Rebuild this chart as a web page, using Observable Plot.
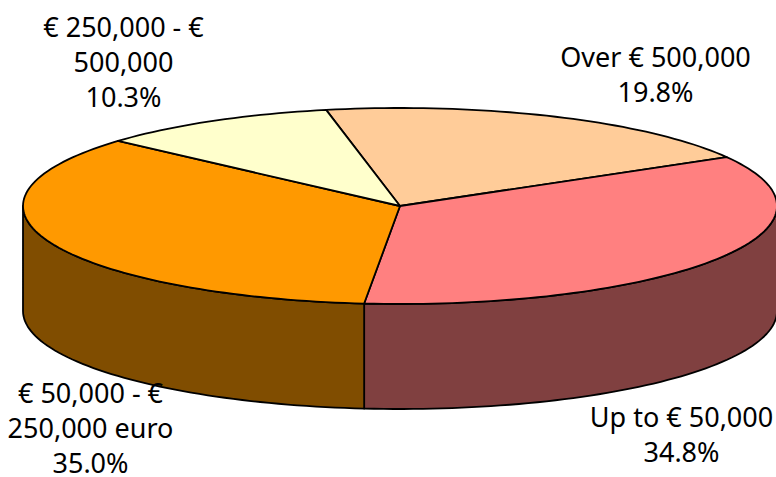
<!DOCTYPE html>
<html>
<head>
<meta charset="utf-8">
<style>html,body{margin:0;padding:0;background:#fff}svg{display:block}</style>
<script src="https://cdn.jsdelivr.net/npm/d3@7"></script>
<script src="https://cdn.jsdelivr.net/npm/@observablehq/plot@0.6"></script>
</head>
<body>
<div id="chart"></div>
<script>
const categories = ["Over € 500,000", "Up to € 50,000", "€ 50,000 - € 250,000 euro", "€ 250,000 - € 500,000"];
const shares = [19.8, 34.8, 35.0, 10.3];
const topColors = ["#FFCC99", "#FF8080", "#FF9900", "#FFFFCC"];
const sideColors = ["#806650", "#804040", "#804D00", "#808066"];
const labelLines = [
  ["Over € 500,000", "19.8%"],
  ["Up to € 50,000", "34.8%"],
  ["€ 50,000 - €", "250,000 euro", "35.0%"],
  ["€ 250,000 - €", "500,000", "10.3%"]
];

// Layout of the tilted pie, in pixels
const W = 776, H = 477, cx = 399.5, cy = 205.5, rx = 377, ry = 98, depth = 105;
const startDeg = -11.3;
const labelPlace = [[655, 58], [681, 418], [90, 394], [123, 28]];
const lineGap = 35;

const total = d3.sum(shares);
const rad = d => d * Math.PI / 180;
const rim = (deg, drop = 0) => ({x: Math.sin(rad(deg)), y: Math.cos(rad(deg)) - drop});
const drop = depth / ry;
const arc = (a, b, dr = 0) => {
  const n = Math.max(2, Math.ceil(Math.abs(b - a) / 1.5));
  return d3.range(n + 1).map(i => rim(a + (b - a) * i / n, dr));
};

let acc = startDeg;
const slices = shares.map((s, i) => {
  const a = acc, b = acc + s / total * 360;
  acc = b;
  return {a, b, top: topColors[i], side: sideColors[i]};
});

const marks = [];
// walls: only the front half of the rim (90deg..270deg) is visible
for (const s of slices) {
  const a = Math.max(s.a, 90), b = Math.min(s.b, 270);
  if (b <= a) continue;
  const pts = [...arc(a, b), ...arc(b, a, drop)];
  pts.push(pts[0]);
  marks.push(Plot.line(pts, {x: "x", y: "y", fill: s.side, stroke: "#000", strokeWidth: 1.8, curve: "linear"}));
}
// top faces
for (const s of slices) {
  const pts = [{x: 0, y: 0}, ...arc(s.a, s.b), {x: 0, y: 0}];
  marks.push(Plot.line(pts, {x: "x", y: "y", fill: s.top, stroke: "#000", strokeWidth: 1.8, curve: "linear"}));
}
// labels
const labelRows = labelLines.flatMap((lines, i) => lines.map((t, j) => ({
  t,
  x: (labelPlace[i][0] - cx) / rx,
  y: (cy - labelPlace[i][1] - j * lineGap) / ry
})));
marks.push(Plot.text(labelRows, {x: "x", y: "y", text: "t", fill: "#000", fontSize: 27, textAnchor: "middle"}));

const chart = Plot.plot({
  width: W, height: H,
  marginTop: 0, marginRight: 0, marginBottom: 0, marginLeft: 0,
  style: {fontFamily: "'Noto Sans', sans-serif", background: "#fff", overflow: "visible"},
  x: {axis: null, domain: [-1, 1], range: [cx - rx, cx + rx]},
  y: {axis: null, domain: [-1, 1], range: [cy + ry, cy - ry]},
  marks
});
document.getElementById("chart").append(chart);
</script>
</body>
</html>
